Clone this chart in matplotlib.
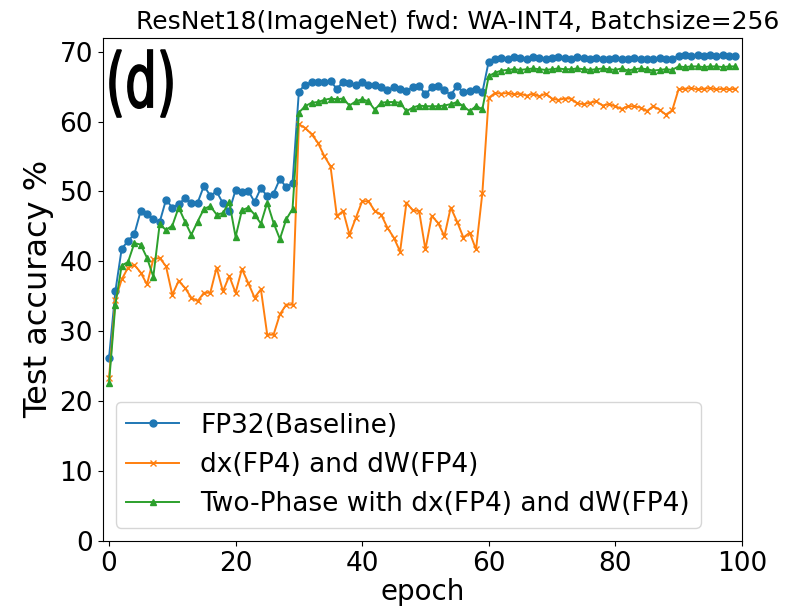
import numpy as np
import matplotlib
matplotlib.use('Agg')
import matplotlib.pyplot as plt
from matplotlib.textpath import TextPath
from matplotlib.patches import PathPatch
from matplotlib.transforms import Affine2D
from matplotlib.font_manager import FontProperties

# Datos (precision de test por epoca)
epochs = np.arange(100)

fp32 = [26.2, 35.7, 41.8, 42.9, 43.9, 47.2, 46.8, 46.0, 45.6, 48.8,
        47.7, 48.2, 49.0, 48.4, 48.4, 50.8, 49.4, 50.0, 48.3, 47.2,
        50.2, 49.9, 50.1, 48.5, 50.5, 49.3, 49.7, 51.8, 50.6, 51.2,
        64.3, 65.3, 65.6, 65.6, 65.7, 65.8, 64.7, 65.7, 65.5, 65.3,
        65.6, 65.2, 65.2, 64.9, 64.5, 64.9, 64.7, 64.4, 64.9, 65.1,
        63.9, 64.9, 65.1, 64.5, 63.8, 65.1, 64.2, 64.4, 64.7, 64.2,
        68.6, 69.0, 69.1, 69.0, 69.2, 69.1, 69.0, 69.2, 69.1, 69.0,
        69.1, 69.2, 69.1, 69.0, 69.2, 69.1, 69.0, 69.1, 68.9, 69.0,
        69.1, 69.0, 68.9, 69.1, 69.0, 68.9, 69.0, 69.1, 68.9, 69.0,
        69.4, 69.5, 69.4, 69.5, 69.4, 69.5, 69.4, 69.5, 69.4, 69.4]

fp4 = [23.3, 34.5, 37.4, 39.1, 39.5, 38.4, 36.7, 40.3, 40.5, 39.3,
       35.2, 37.2, 36.2, 34.8, 34.3, 35.5, 35.5, 39.1, 35.7, 37.9,
       35.5, 38.9, 36.9, 34.8, 36.0, 29.5, 29.5, 32.4, 33.8, 33.8,
       59.6, 59.1, 58.2, 57.0, 55.1, 53.6, 46.5, 47.2, 43.8, 46.2,
       48.6, 48.6, 47.2, 46.7, 44.8, 43.4, 41.4, 48.4, 47.3, 47.2,
       41.7, 46.5, 45.5, 43.6, 47.7, 45.7, 43.4, 44.1, 41.7, 49.8,
       63.4, 64.1, 64.0, 64.1, 63.9, 64.0, 63.7, 64.0, 63.6, 64.0,
       63.3, 63.1, 63.3, 63.3, 62.6, 62.5, 62.7, 62.9, 62.3, 62.5,
       62.2, 61.8, 62.2, 62.2, 62.0, 61.5, 62.2, 61.7, 61.0, 61.6,
       64.6, 64.7, 64.8, 64.6, 64.7, 64.8, 64.6, 64.7, 64.6, 64.7]

two_phase = [22.6, 33.8, 39.4, 39.9, 42.6, 42.4, 40.5, 37.8, 45.3, 44.5,
             45.1, 47.7, 45.7, 43.8, 45.7, 47.5, 47.9, 46.7, 46.9, 48.5,
             43.5, 47.3, 47.7, 46.7, 45.4, 48.4, 45.5, 43.2, 46.0, 47.5,
             61.3, 62.2, 62.7, 62.8, 63.1, 63.3, 63.2, 63.3, 62.3, 62.9,
             63.2, 62.9, 61.7, 62.7, 62.8, 62.8, 62.7, 61.5, 62.0, 62.3,
             62.2, 62.2, 62.2, 62.3, 62.5, 62.8, 62.2, 61.5, 62.2, 61.8,
             66.5, 67.0, 67.3, 67.4, 67.5, 67.4, 67.5, 67.6, 67.5, 67.4,
             67.5, 67.6, 67.5, 67.5, 67.6, 67.5, 67.4, 67.5, 67.6, 67.5,
             67.4, 67.6, 67.3, 67.5, 67.6, 67.5, 67.3, 67.4, 67.5, 67.4,
             67.9, 67.8, 67.9, 67.9, 67.8, 67.9, 67.9, 67.8, 67.9, 67.9]

labels = ['FP32(Baseline)', 'dx(FP4) and dW(FP4)',
          'Two-Phase with dx(FP4) and dW(FP4)']

fig = plt.figure(figsize=(7.9, 6.09), dpi=100)
ax = fig.add_axes([0.130, 0.112, 0.809, 0.826])

ax.plot(epochs, fp32, marker='o', markersize=5, linewidth=1.4, color='#1f77b4', label=labels[0])
ax.plot(epochs, fp4, marker='x', markersize=5, linewidth=1.4, color='#ff7f0e', label=labels[1])
ax.plot(epochs, two_phase, marker='^', markersize=5, linewidth=1.4, color='#2ca02c', label=labels[2])

ax.set_xlim(-1, 100)
ax.set_ylim(0, 72)
ax.set_xticks([0, 20, 40, 60, 80, 100])
ax.set_yticks([0, 10, 20, 30, 40, 50, 60, 70])
ax.tick_params(labelsize=19)

ax.set_title('ResNet18(ImageNet) fwd: WA-INT4, Batchsize=256', fontsize=18, x=0.555)
ax.set_xlabel('epoch', fontsize=20, labelpad=1)
ax.set_ylabel('Test accuracy %', fontsize=23)

# "(d)" estrecho y alto: se dibuja como trazado escalado en horizontal
tp = TextPath((0, 0), '(d)', size=1, prop=FontProperties(family='DejaVu Sans'))
bb = tp.get_extents()
sx = 62 / bb.width
sy = 67 / bb.height
tr = Affine2D().translate(-bb.x0, -bb.y1).scale(sx, sy).translate(110, 609 - 50)
fig.add_artist(PathPatch(tp, transform=tr, facecolor='black', edgecolor='black', linewidth=1.2))

ax.legend(loc='lower left', fontsize=19)

plt.savefig('out.png', dpi=100)
